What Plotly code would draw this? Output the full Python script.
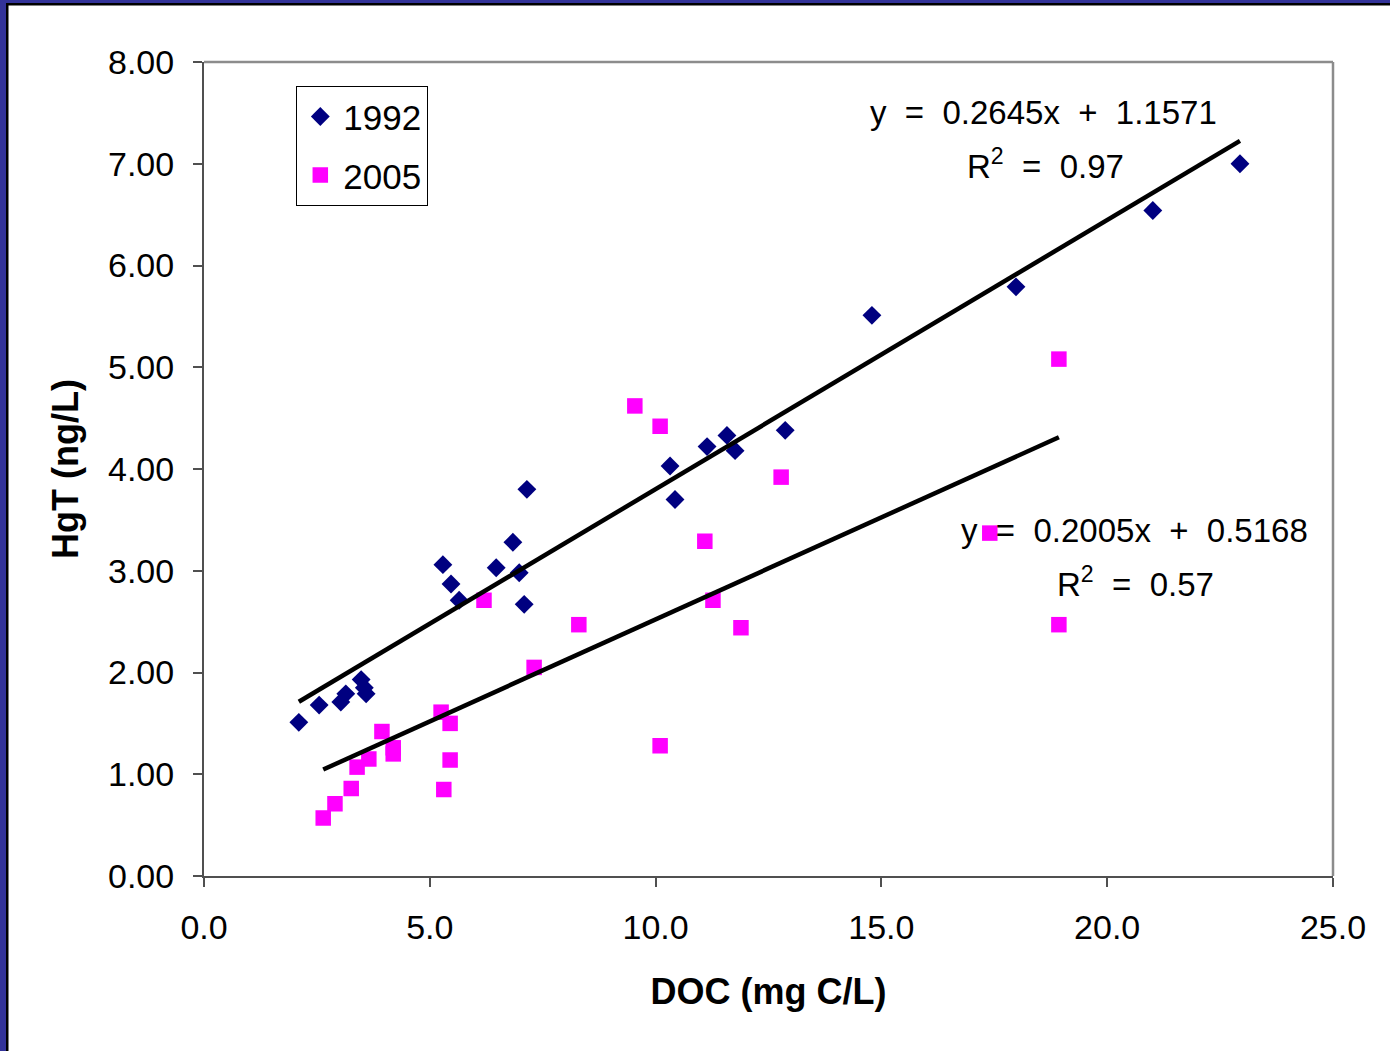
import plotly.graph_objects as go

# ---- data ----
doc_1992 = [2.10, 2.55, 3.03, 3.14, 3.48, 3.55, 3.59, 5.29, 5.47, 5.65, 6.47, 6.84, 6.98, 7.09, 7.15,
            10.32, 10.43, 11.14, 11.58, 11.76, 12.87, 14.79, 17.98, 21.01, 22.94]
hgt_1992 = [1.51, 1.68, 1.71, 1.79, 1.93, 1.85, 1.79, 3.06, 2.87, 2.71, 3.03, 3.28, 2.98, 2.67, 3.80,
            4.03, 3.70, 4.22, 4.33, 4.18, 4.38, 5.51, 5.79, 6.54, 7.00]

doc_2005 = [2.64, 2.90, 3.26, 3.39, 3.65, 3.94, 4.19, 4.19, 5.25, 5.45, 5.45, 5.31, 6.20, 7.31, 8.30,
            9.54, 10.10, 10.10, 11.09, 11.27, 11.89, 12.78, 17.40, 18.93, 18.93]
hgt_2005 = [0.57, 0.71, 0.86, 1.07, 1.15, 1.42, 1.26, 1.20, 1.61, 1.50, 1.14, 0.85, 2.71, 2.05, 2.47,
            4.62, 4.42, 1.28, 3.29, 2.71, 2.44, 3.92, 3.37, 5.08, 2.47]

series_names = ["1992", "2005"]
slopes = [0.2645, 0.2005]
intercepts = [1.1571, 0.5168]
r_squared = ["0.97", "0.57"]

x_ticks = [0, 5, 10, 15, 20, 25]
y_ticks = [0, 1, 2, 3, 4, 5, 6, 7, 8]

FONT = "Liberation Sans, Arial, sans-serif"
NAVY = "#000080"
MAGENTA = "#FF00FF"

fig = go.Figure()

fig.add_trace(go.Scatter(
    x=doc_1992, y=hgt_1992, mode="markers", name=series_names[0], legendgroup="a",
    marker=dict(symbol="diamond", size=14.5, color=NAVY),
))
fig.add_trace(go.Scatter(
    x=doc_2005, y=hgt_2005, mode="markers", name=series_names[1], legendgroup="b",
    marker=dict(symbol="square", size=15.5, color=MAGENTA),
))

# linear trendlines across each series' x range
for xs, m, b in [(doc_1992, slopes[0], intercepts[0]), (doc_2005, slopes[1], intercepts[1])]:
    x0, x1 = min(xs), max(xs)
    fig.add_trace(go.Scatter(
        x=[x0, x1], y=[m * x0 + b, m * x1 + b], mode="lines",
        line=dict(color="black", width=4.5), showlegend=False, hoverinfo="skip",
    ))

# plot geometry in pixels (for frame shapes)
W, H = 1390, 1051
L, R, T, B = 204, 1333, 62, 876


def px(xp):
    return (xp - L) / (R - L)


def py(yp):
    return (B - yp) / (B - T)


shapes = [
    # blue outer frame (left and top)
    dict(type="rect", xref="paper", yref="paper", x0=px(0), x1=px(6), y0=py(H), y1=py(0),
         fillcolor="#333399", line=dict(width=0), layer="above"),
    dict(type="rect", xref="paper", yref="paper", x0=px(0), x1=px(W), y0=py(3), y1=py(0),
         fillcolor="#333399", line=dict(width=0), layer="above"),
    dict(type="rect", xref="paper", yref="paper", x0=px(6), x1=px(8.5), y0=py(H), y1=py(3),
         fillcolor="black", line=dict(width=0), layer="above"),
    dict(type="rect", xref="paper", yref="paper", x0=px(6), x1=px(W), y0=py(5.5), y1=py(3),
         fillcolor="black", line=dict(width=0), layer="above"),
    # plot area border top / right
    dict(type="line", xref="paper", yref="paper", x0=0, x1=1, y0=1, y1=1,
         line=dict(color="#8c8c8c", width=2.5), layer="below"),
    dict(type="line", xref="paper", yref="paper", x0=1, x1=1, y0=0, y1=1,
         line=dict(color="#8c8c8c", width=2.5), layer="below"),
]

sp = " \u00a0"
annotations = []
eq_pos = [((1043, 112), (1045, 164)), ((1134, 530), (1135, 582))]
for i in range(2):
    (ex, ey), (rx, ry) = eq_pos[i]
    eq_txt = f"y{sp}={sp}{slopes[i]:.4f}x{sp}+{sp}{intercepts[i]:.4f}"
    annotations.append(dict(x=px(ex), y=py(ey), xref="paper", yref="paper", text=eq_txt,
                            showarrow=False, font=dict(family=FONT, size=33, color="black"),
                            xanchor="center", yanchor="middle"))
    annotations.append(dict(x=px(rx), y=py(ry), xref="paper", yref="paper",
                            text=f"R<sup>2</sup>{sp}={sp}{r_squared[i]}",
                            showarrow=False, font=dict(family=FONT, size=33, color="black"),
                            xanchor="center", yanchor="middle"))

fig.update_layout(
    width=W, height=H,
    margin=dict(l=L, r=W - R, t=T, b=H - B, pad=0),
    paper_bgcolor="white", plot_bgcolor="white",
    font=dict(family=FONT, size=34, color="black"),
    showlegend=True,
    legend=dict(
        x=px(296), y=py(86), xanchor="left", yanchor="top",
        bordercolor="black", borderwidth=1.3, bgcolor="white",
        font=dict(family=FONT, size=35, color="black"),
        traceorder="grouped", tracegroupgap=10, itemwidth=36,
    ),
    xaxis=dict(
        range=[0, 25], tickmode="array", tickvals=x_ticks,
        ticktext=[f"{v:.1f}" for v in x_ticks],
        showgrid=False, zeroline=False, showline=True, linecolor="#505050", linewidth=2,
        ticks="outside", ticklen=9, tickwidth=2, tickcolor="#505050",
        tickfont=dict(family=FONT, size=34), ticklabelstandoff=11,
        title=dict(text="<b>DOC (mg C/L)</b>", font=dict(family=FONT, size=36), standoff=34),
    ),
    yaxis=dict(
        range=[0, 8], tickmode="array", tickvals=y_ticks,
        ticktext=[f"{v:.2f}" for v in y_ticks],
        showgrid=False, zeroline=False, showline=True, linecolor="#505050", linewidth=2,
        ticks="outside", ticklen=9, tickwidth=2, tickcolor="#505050",
        tickfont=dict(family=FONT, size=34), ticklabelstandoff=12,
        title=dict(text="<b>HgT (ng/L)</b>", font=dict(family=FONT, size=36), standoff=18),
    ),
    shapes=shapes,
    annotations=annotations,
)

fig.write_html("out.html", config={"displayModeBar": False},
               post_script="document.body.style.margin='0px';")
